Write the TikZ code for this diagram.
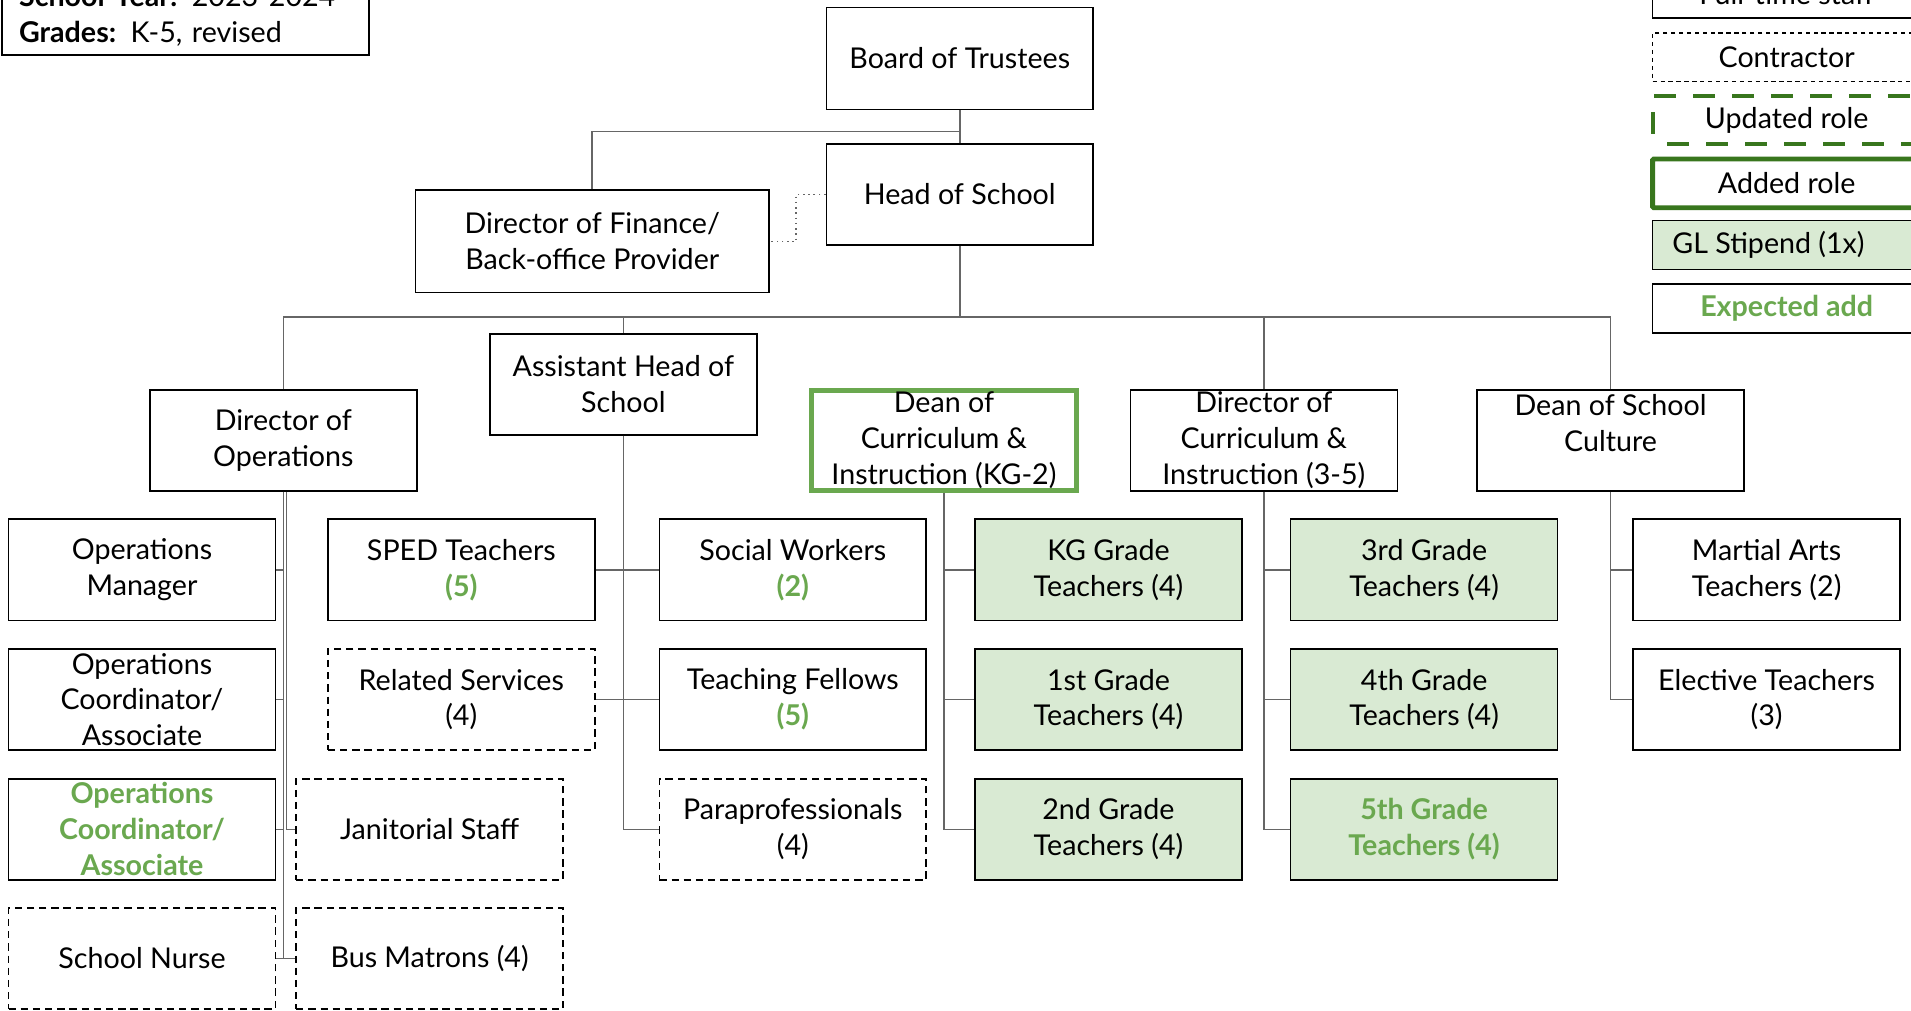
\documentclass[tikz,border=0pt]{standalone}
\usepackage{fontspec}
\setmainfont{Lato}
\definecolor{lineg}{HTML}{666666}
\definecolor{gfill}{HTML}{D9EAD3}
\definecolor{lgreen}{HTML}{6AA84F}
\definecolor{dgreen}{HTML}{38761D}
\newcommand\chartfont{\fontsize{23.5}{29.5}\selectfont}
\newcommand\gb[1]{\textcolor{lgreen}{\textbf{#1}}}
\tikzset{
  box/.style={draw=black, line width=1.3pt, minimum width=219pt, minimum height=83pt,
    inner sep=0pt, align=center, font=\chartfont, fill=white},
  contr/.style={box, dash pattern=on 6pt off 4pt},
  stip/.style={box, fill=gfill},
  conn/.style={draw=lineg, line width=1.4pt},
  leg/.style={box, minimum width=220pt, minimum height=40pt},
}
\begin{document}
\begin{tikzpicture}[x=1pt,y=-1pt]
\clip (0,0) rectangle (1568,829.5);
\fill[white] (0,0) rectangle (1568,829.5);
% title box
\node[draw=black, line width=1.3pt, anchor=south west, align=left, font=\chartfont,
  minimum width=301pt, text width=273pt, inner xsep=14pt, inner ysep=7pt] (title) at (1,46)
  {\textbf{School Year:} 2023-2024\\\textbf{Grades:} K-5, revised};
% legend
\node[leg] (lfull) at (1466,-5) {Full-time staff};
\node[leg, dash pattern=on 3.5pt off 3pt] (lcon) at (1466,47) {Contractor};
\node[leg, draw=dgreen, line width=3.5pt, dash pattern=on 18pt off 14pt, dash phase=20pt, minimum height=39pt] (lupd) at (1466,98.5) {Updated role};
\node[leg, draw=dgreen, line width=4pt, minimum height=40pt, rounded corners=1pt] (ladd) at (1466,150.5) {Added role};
\node[leg, fill=gfill] (lgl) at (1466,201) {};
\node[font=\chartfont, anchor=west, inner sep=0pt] (lgltext) at (1372,201) {GL Stipend (1x)};
\node[leg] (lexp) at (1466,253) {\gb{Expected add}};
% top
\node[box, minimum height=84pt] (board) at (787.5,48) {Board of Trustees};
\node[box] (head) at (787.5,159.5) {Head of School};
\node[box, minimum width=290pt, minimum height=84pt] (fin) at (486,198) {Director of Finance/\\Back-office Provider};
% level 2
\node[box] (dirops) at (232.5,361.5) {Director of\\Operations};
\node[box] (asst) at (511.5,315.5) {Assistant Head of\\School};
\node[box, draw=lgreen, line width=4pt, minimum width=217pt, minimum height=82pt] (deankg) at (774.5,361.5) {Dean of\\Curriculum \&\\Instruction (KG-2)};
\node[box] (dir35) at (1037,361.5) {Director of\\Curriculum \&\\Instruction (3-5)};
\node[box] (culture) at (1321.5,361.5) {Dean of School\\Culture\\~};
% dir ops children
\node[box] (opsmgr) at (116.5,467.5) {Operations\\Manager};
\node[box] (opscoord) at (116.5,574) {Operations\\Coordinator/\\Associate};
\node[box] (opsnew) at (116.5,680.5) {\gb{Operations}\\\gb{Coordinator/}\\\gb{Associate}};
\node[contr] (nurse) at (116.5,786.5) {School Nurse};
\node[contr] (jan) at (352.5,680.5) {Janitorial Staff};
\node[contr] (bus) at (352.5,786.5) {Bus Matrons (4)};
% asst head children
\node[box] (sped) at (378.5,467.5) {SPED Teachers\\\gb{(5)}};
\node[contr] (related) at (378.5,574) {Related Services\\(4)};
\node[box] (social) at (650.5,467.5) {Social Workers\\\gb{(2)}};
\node[box] (fellows) at (650.5,574) {Teaching Fellows\\\gb{(5)}};
\node[contr] (para) at (650.5,680.5) {Paraprofessionals\\(4)};
% KG-2 children
\node[stip] (kg) at (909.5,467.5) {KG Grade\\Teachers (4)};
\node[stip] (g1) at (909.5,574) {1st Grade\\Teachers (4)};
\node[stip] (g2) at (909.5,680.5) {2nd Grade\\Teachers (4)};
% 3-5 children
\node[stip] (g3) at (1168.5,467.5) {3rd Grade\\Teachers (4)};
\node[stip] (g4) at (1168.5,574) {4th Grade\\Teachers (4)};
\node[stip] (g5) at (1168.5,680.5) {\gb{5th Grade}\\\gb{Teachers (4)}};
% culture children
\node[box] (martial) at (1449.5,467.5) {Martial Arts\\Teachers (2)};
\node[box] (elective) at (1449.5,574) {Elective Teachers\\(3)};
% connectors
\coordinate (bj) at (787.5,108);
\coordinate (trunk) at (787.5,260);
\draw[conn] (board.south) -- (head.north);
\draw[conn] (bj) -| (fin.north);
\draw[draw=lineg, line width=1.3pt, dash pattern=on 1.3pt off 3pt] (head.west) -- ++(-24,0) |- (fin.east);
\draw[conn] (head.south) -- (trunk);
\draw[conn] (trunk) -| (dirops.north);
\draw[conn] (trunk) -| (asst.north);
\draw[conn] (trunk) -| (dir35.north);
\draw[conn] (trunk) -| (culture.north);
% dir ops
\draw[conn] (dirops.south) |- (opsmgr.east);
\draw[conn] (dirops.south) |- (opscoord.east);
\draw[conn] (dirops.south) |- (opsnew.east);
\draw[conn] (dirops.south) |- (nurse.east);
\draw[conn] ([xshift=2.6pt]dirops.south) |- (jan.west);
\draw[conn] (dirops.south) |- (bus.west);
% asst
\draw[conn] (asst.south) |- (sped.east);
\draw[conn] (asst.south) |- (related.east);
\draw[conn] (asst.south) |- (social.west);
\draw[conn] (asst.south) |- (fellows.west);
\draw[conn] (asst.south) |- (para.west);
% kg-2
\draw[conn] (deankg.south) |- (kg.west);
\draw[conn] (deankg.south) |- (g1.west);
\draw[conn] (deankg.south) |- (g2.west);
% 3-5
\draw[conn] (dir35.south) |- (g3.west);
\draw[conn] (dir35.south) |- (g4.west);
\draw[conn] (dir35.south) |- (g5.west);
% culture
\draw[conn] (culture.south) |- (martial.west);
\draw[conn] (culture.south) |- (elective.west);
\end{tikzpicture}
\end{document}
